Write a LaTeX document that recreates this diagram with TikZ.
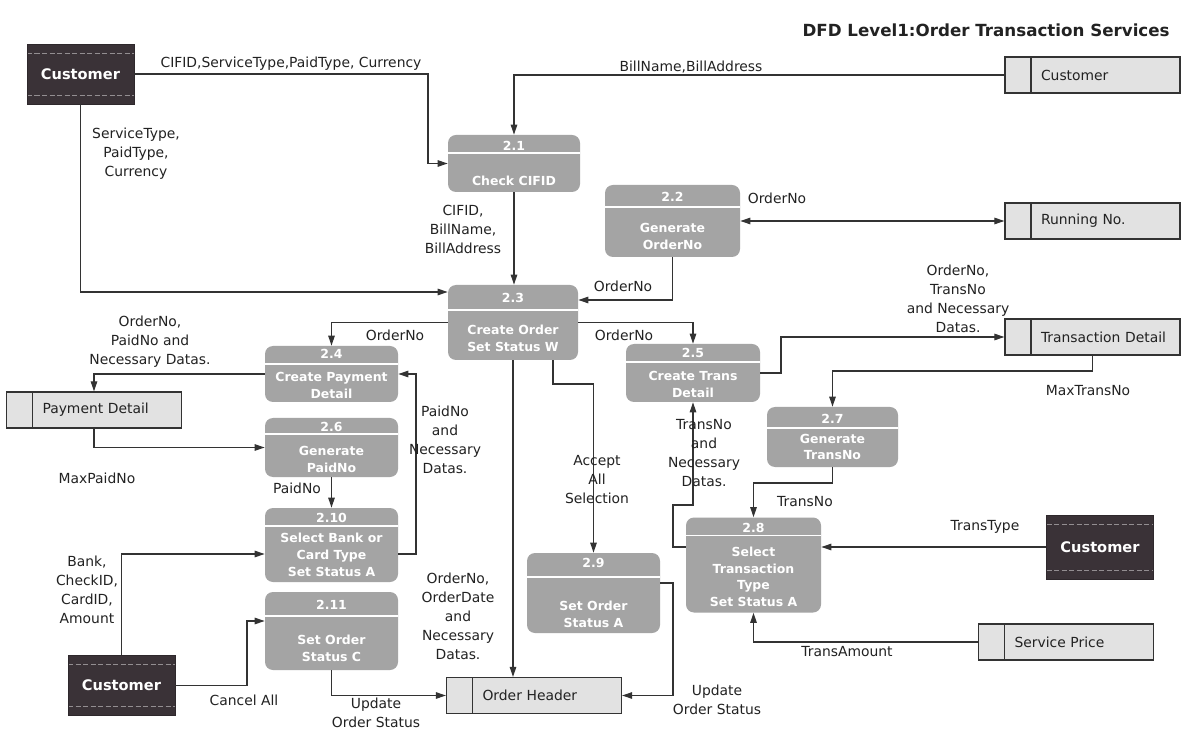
\documentclass[tikz,border=0pt]{standalone}
\usepackage{fontspec}
\setmainfont{DejaVu Sans}
\usetikzlibrary{arrows.meta}
\definecolor{entfill}{HTML}{3A3237}
\definecolor{procfill}{HTML}{A4A4A4}
\definecolor{storefill}{HTML}{E2E2E2}
\definecolor{lineink}{HTML}{333333}
\definecolor{labelink}{HTML}{222222}

\begin{document}
\begin{tikzpicture}[
    x=0.2mm, y=-0.2mm,
    entity/.style={fill=entfill, draw=entfill!80!black, text=white, inner sep=0pt,
      font=\fontsize{8.3}{10}\selectfont\bfseries, minimum width=21.4mm, minimum height=12mm,
      path picture={\draw[entfill!55!white, dash pattern=on 1mm off 0.5mm, line width=0.12mm]
        ([yshift=-1.8mm]path picture bounding box.north west) -- ([yshift=-1.8mm]path picture bounding box.north east)
        ([yshift=1.8mm]path picture bounding box.south west) -- ([yshift=1.8mm]path picture bounding box.south east);}},
    store/.style={draw=lineink, fill=storefill, line width=0.25mm, minimum height=7.2mm,
      inner xsep=1.6mm, inner ysep=0pt, text width=31.8mm, align=left, text=labelink,
      font=\fontsize{7.9}{9.6}\selectfont, execute at begin node={\hspace*{5.6mm}},
      path picture={\draw[lineink, line width=0.25mm]
        ([xshift=5.2mm]path picture bounding box.south west) -- ([xshift=5.2mm]path picture bounding box.north west);}},
    proc/.style={rounded corners=1.6mm, fill=procfill, text=white, inner sep=0pt, align=center,
      font=\fontsize{7.1}{9.6}\selectfont\bfseries,
      path picture={\draw[white, line width=0.3mm]
        ([yshift=-#1]path picture bounding box.north west) -- ([yshift=-#1]path picture bounding box.north east);}},
    flow/.style={->, >={Triangle[length=2mm, width=1.3mm]}, lineink, line width=0.22mm},
    flow2/.style={flow, <->},
    lbl/.style={font=\fontsize{7.9}{10.8}\selectfont, text=labelink, align=center, inner sep=0pt},
  ]
  \path[use as bounding box, fill=white] (0,0) rectangle (1190,729);

  % Title
  \node[font=\fontsize{9.5}{11}\selectfont\bfseries, text=labelink, anchor=east, inner sep=0pt]
    (title) at (1170,30) {DFD Level1:Order Transaction Services};

  % External entities
  \node[entity] (cust1) at (80.5,74) {Customer};
  \node[entity, minimum height=12.8mm] (cust2) at (1100,547) {Customer};
  \node[entity] (cust3) at (121.5,685.5) {Customer};

  % Data stores
  \node[store] (dsCust) at (1092.5,75) {Customer};
  \node[store] (dsRun) at (1092.5,221) {Running No.};
  \node[store] (dsTrans) at (1092.5,337) {Transaction Detail};
  \node[store] (dsPay) at (94,410) {Payment Detail};
  \node[store] (dsOrder) at (534,695.5) {Order Header};
  \node[store] (dsPrice) at (1066,642) {Service Price};

  % Processes
  \node[proc=3.6mm, minimum width=26.4mm, minimum height=11.4mm] (p21) at (514,163.5) {2.1\\[3.6mm]Check CIFID};
  \node[proc=4.4mm, minimum width=27mm, minimum height=14.4mm] (p22) at (672.5,221) {2.2\\[2.8mm]Generate\\OrderNo};
  \node[proc=5mm, minimum width=26mm, minimum height=15mm] (p23) at (513,322.5) {2.3\\[3mm]Create Order\\Set Status W};
  \node[proc=3.6mm, minimum width=26.6mm, minimum height=11.2mm] (p24) at (331.5,374) {2.4\\[1.2mm]Create Payment\\Detail};
  \node[proc=3.6mm, minimum width=26.8mm, minimum height=11.6mm] (p25) at (693,373) {2.5\\[1.2mm]Create Trans\\Detail};
  \node[proc=3.2mm, minimum width=26.6mm, minimum height=11.8mm] (p26) at (331.5,447.5) {2.6\\[1.4mm]Generate\\PaidNo};
  \node[proc=4.2mm, minimum width=26.2mm, minimum height=12mm] (p27) at (832.5,437) {2.7\\[0.6mm]Generate\\TransNo};
  \node[proc=3.6mm, minimum width=27mm, minimum height=19mm] (p28) at (753.5,565) {2.8\\[1.4mm]Select\\Transaction\\Type\\Set Status A};
  \node[proc=4.8mm, minimum width=26.6mm, minimum height=16mm] (p29) at (593.5,593) {2.9\\[5.2mm]Set Order\\Status A};
  \node[proc=3.6mm, minimum width=26.6mm, minimum height=14.8mm] (p210) at (331.5,545) {2.10\\[0.6mm]Select Bank or\\Card Type\\Set Status A};
  \node[proc=4.8mm, minimum width=26.6mm, minimum height=15.6mm] (p211) at (331.5,631) {2.11\\[3.6mm]Set Order\\Status C};

  % Bends
  \coordinate (k1) at (428,120);
  \coordinate (k12) at (416,460);
  \coordinate (k13) at (781,355);
  \coordinate (k14) at (900,371);
  \coordinate (k15) at (790,483);
  \coordinate (k16) at (673,505);
  \coordinate (k20) at (575,384);
  \coordinate (k21) at (673,640);
  \coordinate (k23) at (247,650);

  % Flows
  \draw[flow] (cust1.east) -| (k1) |- (p21.west);
  \draw[flow] (dsCust.west) -| (p21.north);
  \draw[flow] (cust1.south) |- ([yshift=6.1mm]p23.west);
  \draw[flow] (p21.south) -- (p21.south |- p23.north);
  \draw[flow2] (p22.east) -- (dsRun.west);
  \draw[flow] (p22.south) |- ([yshift=4.5mm]p23.east);
  \draw[flow] (p23.west) -| (p24.north);
  \draw[flow] (p23.east) -| (p25.north);
  \draw[flow] (p24.west) -| (dsPay.north);
  \draw[flow] (dsPay.south) |- (p26.west);
  \draw[flow] (p26.south) -- (p210.north);
  \draw[flow] ([yshift=-1.8mm]p210.east) -| (k12) |- (p24.east);
  \draw[flow] (p25.east) -| (k13) |- (dsTrans.west);
  \draw[flow] (dsTrans.south) |- (k14) -| (p27.north);
  \draw[flow] (p27.south) |- (k15) -| (p28.north);
  \draw[flow] ([yshift=3.6mm]p28.west) -| (k16) -| (p25.south);
  \draw[flow] (cust2.west) -- (cust2.west -| p28.east);
  \draw[flow] (dsPrice.west) -| (p28.south);
  \draw[flow] (p23.south) -- (p23.south |- dsOrder.north);
  \draw[flow] ([xshift=8mm]p23.south) |- (k20) -| (p29.north);
  \draw[flow] ([yshift=2mm]p29.east) -| (k21) |- (dsOrder.east);
  \draw[flow] (cust3.north) |- ([yshift=-1.8mm]p210.west);
  \draw[flow] (cust3.east) -| (k23) |- ([yshift=2mm]p211.west);
  \draw[flow] (p211.south) |- (dsOrder.west);

  % Flow labels
  \node[lbl] (lb1) at (291,64) {CIFID,ServiceType,PaidType, Currency};
  \node[lbl] (lb2) at (691,67) {BillName,BillAddress};
  \node[lbl] (lb3) at (136,154) {ServiceType,\\PaidType,\\Currency};
  \node[lbl] (lb4) at (463,229) {CIFID,\\BillName,\\BillAddress};
  \node[lbl] (lb5) at (777,198) {OrderNo};
  \node[lbl] (lb6) at (623,286) {OrderNo};
  \node[lbl] (lb7) at (395,335) {OrderNo};
  \node[lbl] (lb8) at (624,335) {OrderNo};
  \node[lbl] (lb9) at (958,299) {OrderNo,\\TransNo\\and Necessary\\Datas.};
  \node[lbl] (lb10) at (150,342) {OrderNo,\\PaidNo and\\Necessary Datas.};
  \node[lbl] (lb11) at (97,478) {MaxPaidNo};
  \node[lbl] (lb12) at (1088,391) {MaxTransNo};
  \node[lbl] (lb13) at (297,488) {PaidNo};
  \node[lbl] (lb14) at (445,440) {PaidNo\\and\\Necessary\\Datas.};
  \node[lbl] (lb15) at (597,480) {Accept\\All\\Selection};
  \node[lbl] (lb16) at (704,453) {TransNo\\and\\Necessary\\Datas.};
  \node[lbl] (lb17) at (805,502) {TransNo};
  \node[lbl] (lb18) at (985,527) {TransType};
  \node[lbl] (lb19) at (847,652) {TransAmount};
  \node[lbl] (lb20) at (87,590) {Bank,\\CheckID,\\CardID,\\Amount};
  \node[lbl] (lb21) at (458,616) {OrderNo,\\OrderDate\\and\\Necessary\\Datas.};
  \node[lbl] (lb22) at (376,713) {Update\\Order Status};
  \node[lbl] (lb23) at (717,700) {Update\\Order Status};
  \node[lbl] (lb24) at (244,700) {Cancel All};
\end{tikzpicture}
\end{document}
